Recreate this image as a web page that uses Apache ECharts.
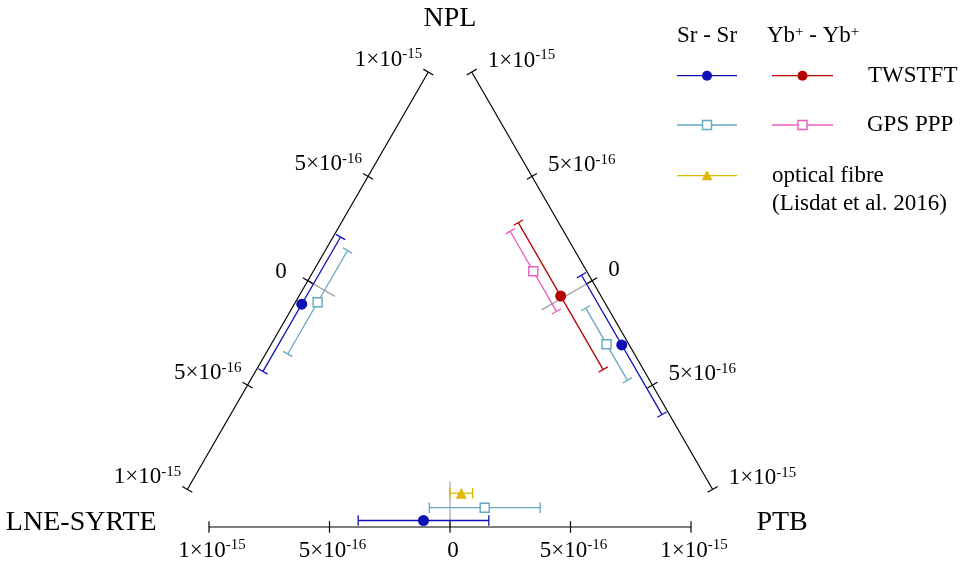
<!DOCTYPE html>
<html><head><meta charset="utf-8">
<script src="https://cdn.jsdelivr.net/npm/echarts@6/dist/echarts.min.js"></script>
<style>html,body{margin:0;padding:0;background:#fff}#c{width:964px;height:571px}</style>
</head><body><div id="c"></div><script>
// ---------------- DATA (fractional frequency offsets, units of 1e-16) ----------------
// links: left = LNE-SYRTE -> NPL, right = NPL -> PTB, bottom = LNE-SYRTE -> PTB
const stationNames = ['NPL', 'LNE-SYRTE', 'PTB'];
const linkAxes = ['left', 'right', 'bottom'];
const tickValues = [-10, -5, 0, 5, 10];
const tickLabels = ['1×10{s|-15}', '5×10{s|-16}', '0', '5×10{s|-16}', '1×10{s|-15}'];

const srTwstftValue = [-0.97, 2.92, -1.10];
const srTwstftError = [3.22, 3.34, 2.71];
const srGpsValue = [-0.57, 2.58, 1.44];
const srGpsError = [2.48, 1.73, 2.30];
const ybTwstftValue = [null, -0.10, null];
const ybTwstftError = [null, 3.52, null];
const ybGpsValue = [null, -1.56, null];
const ybGpsError = [null, 1.92, null];
const fibreValue = [null, null, 0.47];
const fibreError = [null, null, 0.47];

// ---------------- GEOMETRY / STYLE ----------------
const FONT = '"Liberation Serif", "DejaVu Serif", serif';
const PX = 24.1;             // pixels per unit (equal aspect)
const X0 = 450, Y0 = 527;    // pixel of the bottom-axis zero
const xMin = -14, xMax = 14, yMin = -1, yMax = 20;
const gLeft = X0 + xMin * PX, gWidth = (xMax - xMin) * PX;
const gTop = Y0 - yMax * PX, gHeight = (yMax - yMin) * PX;

const SIDE = 23.6, HALF = 10, TICK = 0.24, CAP = 0.22;
const S3 = Math.sqrt(3) / 2;
const axisGeom = {
  bottom: { m: [0, 0], u: [1, 0], n: [0, 1] },
  left:   { m: [-SIDE / 4, SIDE * S3 / 2], u: [0.5, S3], n: [S3, -0.5] },
  right:  { m: [SIDE / 4, SIDE * S3 / 2], u: [0.5, -S3], n: [-S3, -0.5] }
};
function pt(ax, v, d) {
  const g = axisGeom[ax];
  return [g.m[0] + v * g.u[0] + d * g.n[0], g.m[1] + v * g.u[1] + d * g.n[1]];
}
function seg(a, b) { return [a[0], a[1], b[0], b[1]]; }

const seriesDefs = [
  { name: 'Sr TWSTFT', values: srTwstftValue, errors: srTwstftError, color: '#1010b8', symbol: 'circle', size: 11, filled: true, offset: 0.27 },
  { name: 'Sr GPS PPP', values: srGpsValue, errors: srGpsError, color: '#63a9c1', symbol: 'rect', size: 9, filled: false, offset: 0.80 },
  { name: 'Yb TWSTFT', values: ybTwstftValue, errors: ybTwstftError, color: '#b50000', symbol: 'circle', size: 11, filled: true, offset: 1.45 },
  { name: 'Yb GPS PPP', values: ybGpsValue, errors: ybGpsError, color: '#ec5cbd', symbol: 'rect', size: 9, filled: false, offset: 1.92 },
  { name: 'optical fibre', values: fibreValue, errors: fibreError, color: '#e2b900', symbol: 'triangle', size: 11, filled: true, offset: 1.40 }
];

// ---------------- BUILD SERIES ----------------
function segSeries(name, data, color, lw, z) {
  return {
    type: 'custom', name, data, z, clip: false, silent: true,
    encode: { x: [0, 2], y: [1, 3] },
    itemStyle: { color },
    renderItem: function (params, api) {
      const p1 = api.coord([api.value(0), api.value(1)]);
      const p2 = api.coord([api.value(2), api.value(3)]);
      return { type: 'line', shape: { x1: p1[0], y1: p1[1], x2: p2[0], y2: p2[1] },
               style: { stroke: color, lineWidth: lw } };
    }
  };
}

const series = [];
const axisSegs = [], zeroSegs = [];
linkAxes.forEach((ax, i) => {
  axisSegs.push(seg(pt(ax, -HALF, 0), pt(ax, HALF, 0)));
  tickValues.forEach(v => axisSegs.push(seg(pt(ax, v, -TICK), pt(ax, v, TICK))));
  let maxOff = 0;
  seriesDefs.forEach(d => { if (d.values[i] != null) maxOff = Math.max(maxOff, d.offset); });
  zeroSegs.push(seg(pt(ax, 0, 0), pt(ax, 0, maxOff + 0.5)));
});
series.push(segSeries('zero', zeroSegs, '#a0a0a0', 1.2, 1));
series.push(segSeries('axes', axisSegs, '#000', 1.2, 2));

seriesDefs.forEach(def => {
  const segs = [], pts = [];
  def.values.forEach((v, i) => {
    if (v == null) return;
    const ax = linkAxes[i], e = def.errors[i], d = def.offset;
    segs.push(seg(pt(ax, v - e, d), pt(ax, v + e, d)));
    segs.push(seg(pt(ax, v - e, d - CAP), pt(ax, v - e, d + CAP)));
    segs.push(seg(pt(ax, v + e, d - CAP), pt(ax, v + e, d + CAP)));
    pts.push(pt(ax, v, d));
  });
  series.push(segSeries(def.name + ' err', segs, def.color, 1.3, 3));
  series.push({
    type: 'scatter', name: def.name, data: pts, z: 4, clip: false, silent: true,
    symbol: def.symbol, symbolSize: def.size,
    itemStyle: def.filled ? { color: def.color, opacity: 1 } : { color: '#fff', borderColor: def.color, borderWidth: 1.4, opacity: 1 }
  });
});

// tick labels
const richSup = { s: { fontSize: 15, fontFamily: FONT, color: '#000', verticalAlign: 'top', lineHeight: 13 } };
const labelBase = { show: true, fontSize: 23, fontFamily: FONT, color: '#000', lineHeight: 26, rich: richSup };
const tickLabelData = [];
linkAxes.forEach(ax => {
  tickValues.forEach((v, k) => {
    let lab;
    if (ax === 'left') lab = { position: 'left', distance: tickLabels[k] === '0' ? 21 : 6, offset: [0, tickLabels[k] === '0' ? -9 : -12] };
    else if (ax === 'right') lab = { position: 'right', distance: 16, offset: [0, -11] };
    else lab = { position: 'bottom', distance: 11, offset: [3, 0] };
    tickLabelData.push({ value: pt(ax, v, 0), label: Object.assign({}, labelBase, lab, { formatter: tickLabels[k] }) });
  });
});
series.push({ type: 'scatter', name: 'ticklabels', data: tickLabelData, symbolSize: 0, z: 5, clip: false, silent: true, itemStyle: { opacity: 1 } });

// station names at the triangle vertices
const vertices = [[0, SIDE * S3], [-SIDE / 2, 0], [SIDE / 2, 0]];
const vertexLabel = [
  { position: 'top', distance: 2, offset: [0, 0] },
  { position: 'left', distance: 9, offset: [0, -4] },
  { position: 'right', distance: 22, offset: [0, -4] }
];
series.push({
  type: 'scatter', name: 'stations', symbolSize: 0, z: 5, clip: false, silent: true, itemStyle: { opacity: 1 },
  data: stationNames.map((s, i) => ({ value: vertices[i],
    label: Object.assign({ show: true, formatter: s, fontSize: 28, fontFamily: FONT, color: '#000' }, vertexLabel[i]) }))
});

// ---------------- LEGEND (graphic) ----------------
const LF = '23px ' + FONT;
const legRows = [75.7, 125, 175.7];
const colSr = [677, 737], colYb = [772, 833];
const graphic = [];
function legText(x, y, text, rich) {
  graphic.push({ type: 'text', x, y, style: { text, font: LF, fill: '#000', verticalAlign: 'middle', rich } });
}
function legItem(col, y, def) {
  graphic.push({ type: 'line', shape: { x1: col[0], y1: y, x2: col[1], y2: y }, style: { stroke: def.color, lineWidth: 1.3 } });
  const cx = (col[0] + col[1]) / 2;
  let shape;
  if (def.symbol === 'circle') shape = { type: 'circle', shape: { cx, cy: y, r: 5 } };
  else if (def.symbol === 'rect') shape = { type: 'rect', shape: { x: cx - 4.5, y: y - 4.5, width: 9, height: 9 } };
  else shape = { type: 'polygon', shape: { points: [[cx, y - 5.5], [cx + 5.5, y + 4.5], [cx - 5.5, y + 4.5]] } };
  shape.style = def.filled ? { fill: def.color } : { fill: '#fff', stroke: def.color, lineWidth: 1.4 };
  graphic.push(shape);
}
legText(677, 35.7, 'Sr - Sr');
legText(767, 35.7, 'Yb{s|+} - Yb{s|+}', { s: { fontSize: 15, fontFamily: FONT, fill: '#000', verticalAlign: 'top', lineHeight: 12 } });
legItem(colSr, legRows[0], seriesDefs[0]);
legItem(colYb, legRows[0], seriesDefs[2]);
legText(868, legRows[0], 'TWSTFT');
legItem(colSr, legRows[1], seriesDefs[1]);
legItem(colYb, legRows[1], seriesDefs[3]);
legText(867, legRows[1], 'GPS PPP');
legItem(colSr, legRows[2], seriesDefs[4]);
legText(772, legRows[2], 'optical fibre');
legText(772, 204.3, '(Lisdat et al. 2016)');

const chart = echarts.init(document.getElementById('c'), null, { renderer: 'canvas' });
chart.setOption({
  animation: false,
  backgroundColor: '#fff',
  grid: { left: gLeft, top: gTop, width: gWidth, height: gHeight },
  xAxis: { type: 'value', min: xMin, max: xMax, show: false },
  yAxis: { type: 'value', min: yMin, max: yMax, show: false },
  series,
  graphic
});
</script></body></html>
